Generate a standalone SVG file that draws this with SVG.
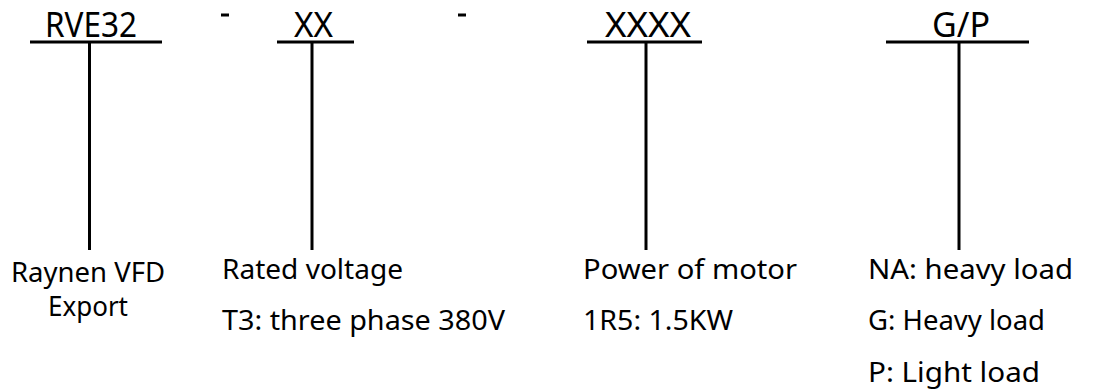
<svg xmlns="http://www.w3.org/2000/svg" width="1101" height="389" viewBox="0 0 1101 389">
<style>
text{font-family:"Noto Sans","Open Sans","DejaVu Sans",sans-serif;fill:#000}
.top{font-size:34px}
.lbl{font-size:27px}
.ln{stroke:#000;stroke-width:3;fill:none}
</style>
<rect width="1101" height="389" fill="#fff"/>
<g id="connectors">
<line class="ln" x1="30" y1="42" x2="162" y2="42"/>
<line class="ln" x1="89.5" y1="42" x2="89.5" y2="250"/>
<line class="ln" x1="277" y1="42" x2="354" y2="42"/>
<line class="ln" x1="312" y1="42" x2="312" y2="250"/>
<line class="ln" x1="587" y1="42" x2="702" y2="42"/>
<line class="ln" x1="646" y1="42" x2="646" y2="250"/>
<line class="ln" x1="886" y1="42" x2="1029" y2="42"/>
<line class="ln" x1="959" y1="42" x2="959" y2="250"/>
</g>
<g id="dashes">
<line class="ln" x1="221" y1="15" x2="229" y2="15" stroke-width="2"/>
<line class="ln" x1="458" y1="15" x2="466" y2="15" stroke-width="2"/>
</g>
<g id="node-rve32">
<text class="top" x="45" y="37" textLength="92" lengthAdjust="spacingAndGlyphs">RVE32</text>
<text class="lbl" x="11" y="282" textLength="154" lengthAdjust="spacingAndGlyphs">Raynen VFD</text>
<text class="lbl" x="48" y="316" textLength="80" lengthAdjust="spacingAndGlyphs">Export</text>
</g>
<g id="node-xx">
<text class="top" x="294" y="37" textLength="39" lengthAdjust="spacingAndGlyphs">XX</text>
<text class="lbl" x="222" y="279" textLength="181" lengthAdjust="spacingAndGlyphs">Rated  voltage</text>
<text class="lbl" x="222" y="330" textLength="283" lengthAdjust="spacingAndGlyphs">T3:  three   phase 380V</text>
</g>
<g id="node-xxxx">
<text class="top" x="605" y="37" textLength="86" lengthAdjust="spacingAndGlyphs">XXXX</text>
<text class="lbl" x="583" y="279" textLength="214" lengthAdjust="spacingAndGlyphs">Power of  motor</text>
<text class="lbl" x="583" y="330" textLength="150" lengthAdjust="spacingAndGlyphs">1R5:  1.5KW</text>
</g>
<g id="node-gp">
<text class="top" x="932" y="37" textLength="58" lengthAdjust="spacingAndGlyphs">G/P</text>
<text class="lbl" x="868" y="279" textLength="205" lengthAdjust="spacingAndGlyphs">NA:  heavy load</text>
<text class="lbl" x="868" y="330" textLength="177" lengthAdjust="spacingAndGlyphs">G:  Heavy load</text>
<text class="lbl" x="868" y="382" textLength="172" lengthAdjust="spacingAndGlyphs">P:  Light load</text>
</g>
</svg>
